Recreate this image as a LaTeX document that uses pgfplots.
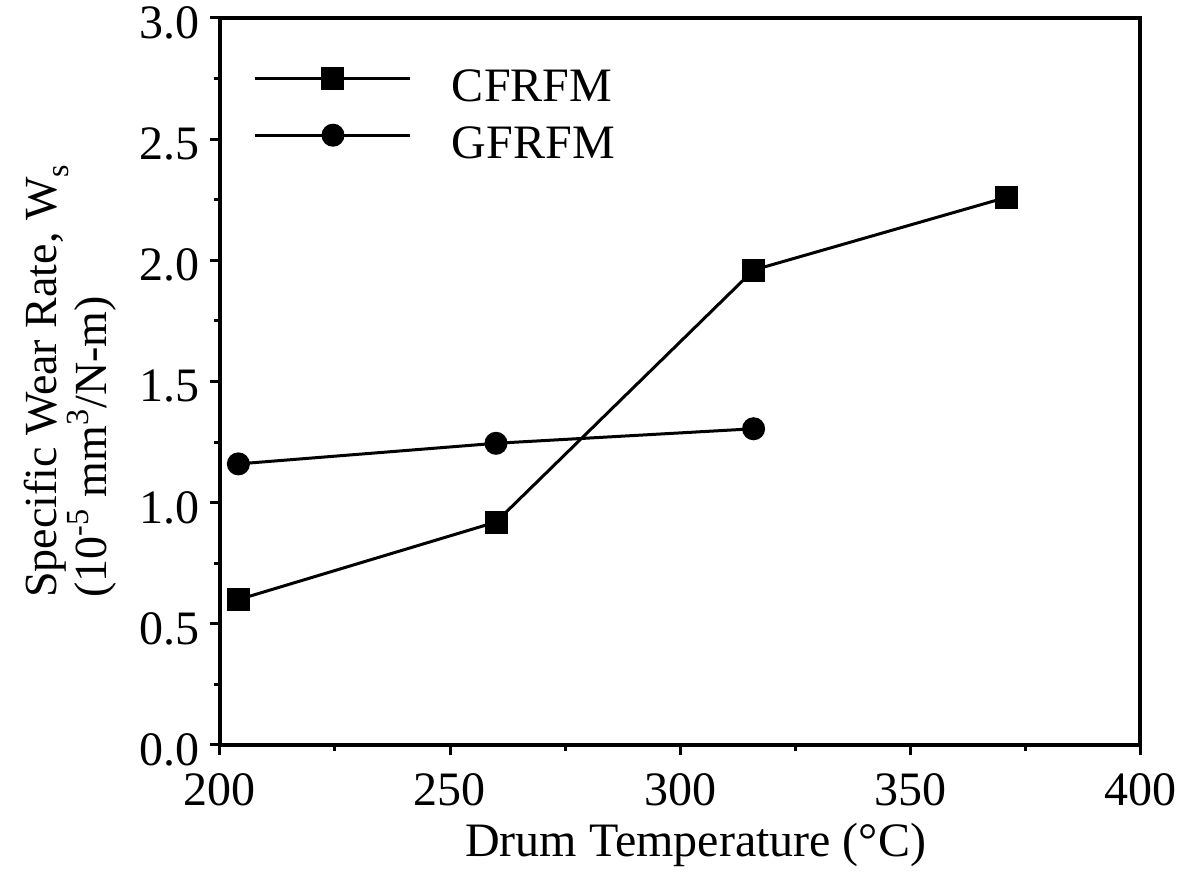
\documentclass[border=0pt]{standalone}
\usepackage{pgfplots}
\pgfplotsset{compat=1.18}
\usepackage{fontspec}
\setmainfont{Liberation Serif}
\begin{document}
\begin{tikzpicture}
\useasboundingbox (-110pt,-68pt) rectangle (486pt,372.5pt);
\begin{axis}[
 at={(0,0)}, anchor=south west,
 scale only axis, width=460pt, height=363.5pt,
 xmin=200, xmax=400, ymin=0, ymax=3,
 xtick={200,250,...,400}, ytick={0,0.5,...,3},
 minor x tick num=1, minor y tick num=1,
 tick align=outside, xtick pos=left, ytick pos=left,
 major tick length=5pt, minor tick length=3pt,
 axis line style={line width=2pt},
 every tick/.style={black, line width=1.5pt},
 tick label style={font=\fontsize{24}{28}\selectfont},
 /pgf/number format/assume math mode=true,
 yticklabel style={xshift=-1.5pt, yshift=-2.5pt, /pgf/number format/fixed, /pgf/number format/fixed zerofill, /pgf/number format/precision=1},
 xticklabel style={yshift=-6pt, /pgf/number format/fixed, /pgf/number format/1000 sep={}},
 xlabel={Drum Temperature (°C)},
 xlabel style={font=\fontsize{24}{28}\selectfont, at={(axis description cs:0.517,-0.1527)}, anchor=base},
 ylabel={Specific Wear Rate, W\raisebox{-6pt}[0pt][0pt]{\fontsize{16}{16}\selectfont s}\\(10\textsuperscript{-5} mm\textsuperscript{3}/N-m)},
 ylabel style={align=left, font=\fontsize{23}{25}\selectfont, at={(axis description cs:-0.105,0.5)}, anchor=south},
 legend image code/.code={\draw[#1, mark repeat=2, mark phase=2] plot coordinates {(0pt,0pt) (38.75pt,0pt) (77.5pt,0pt)};},
 legend style={draw=none, fill=none, at={(axis description cs:0.03,0.94)}, anchor=north west, font=\fontsize{24}{28}\selectfont, row sep=16pt, column sep=0pt},
 legend cell align=left,
]
\addplot[black, line width=1.5pt, mark=square*, mark size=5pt, mark options={solid}] coordinates {(204,0.60) (260,0.92) (316,1.96) (371,2.26)};
\addlegendentry{\hspace{18pt}\raisebox{-9pt}{CFRFM}}
\addplot[black, line width=1.5pt, mark=*, mark size=5pt, mark options={solid}] coordinates {(204,1.16) (260,1.245) (316,1.305)};
\addlegendentry{\hspace{18pt}\raisebox{-9pt}{GFRFM}}
\end{axis}
\end{tikzpicture}
\end{document}
